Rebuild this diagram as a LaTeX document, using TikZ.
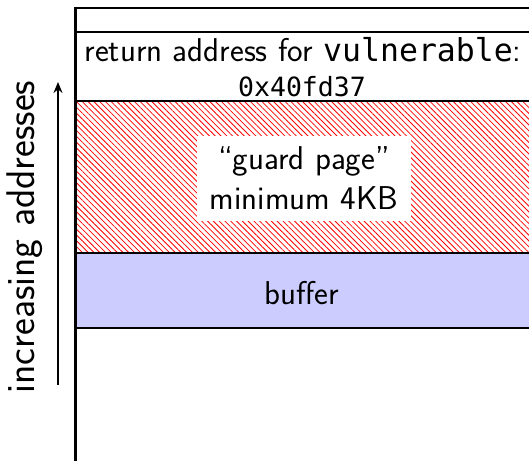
\documentclass[tikz,border=0pt]{standalone}
\usepackage{fontspec}
\newfontfamily\codefont{DejaVu Sans Mono}
\usetikzlibrary{patterns.meta,arrows.meta}
\begin{document}
\begin{tikzpicture}[x=1pt,y=-1pt,
  slot/.style={draw=black,line width=2pt},
  lbl/.style={font=\sffamily\fontsize{33}{38}\selectfont,inner sep=0pt,align=center},
  code/.style={font=\codefont\fontsize{26.5}{32}\selectfont}]
\useasboundingbox (0,0) rectangle (529,460);
% memory slots
\draw[slot,fill=white] (75,8) rectangle (531,32);
\draw[slot,fill=white] (75,32) rectangle (531,101);
\draw[slot,pattern={Lines[angle=-45,distance=4.1pt,line width=0.8pt]},pattern color=red] (75,101) rectangle (531,253);
\draw[slot,fill=blue!20] (75,253) rectangle (531,328);
\draw[slot,fill=white] (75,328) rectangle (531,462);
\draw[black,line width=3pt] (75,7) -- (75,461);
% labels
\node[lbl] (ret) at (303,50) {return address for {\codefont\fontsize{31.5}{38}\selectfont vulnerable}:};
\node[code,inner sep=0pt] (addr) at (302,87) {0x40fd37};
\node[lbl,fill=white,minimum width=214pt,minimum height=85pt] (guard) at (304,178) {``guard page''\\[2pt]minimum 4KB};
\node[lbl] (buf) at (302,293) {buffer};
% direction
\coordinate (abot) at (58,385);
\coordinate (atop) at (58,82);
\draw[line width=1.6pt,-{Stealth[length=11pt,width=9pt]}] (abot) -- (atop);
\node[lbl,rotate=90,font=\sffamily\fontsize{40}{44}\selectfont] (incr) at (25,237) {increasing addresses};
\end{tikzpicture}
\end{document}
